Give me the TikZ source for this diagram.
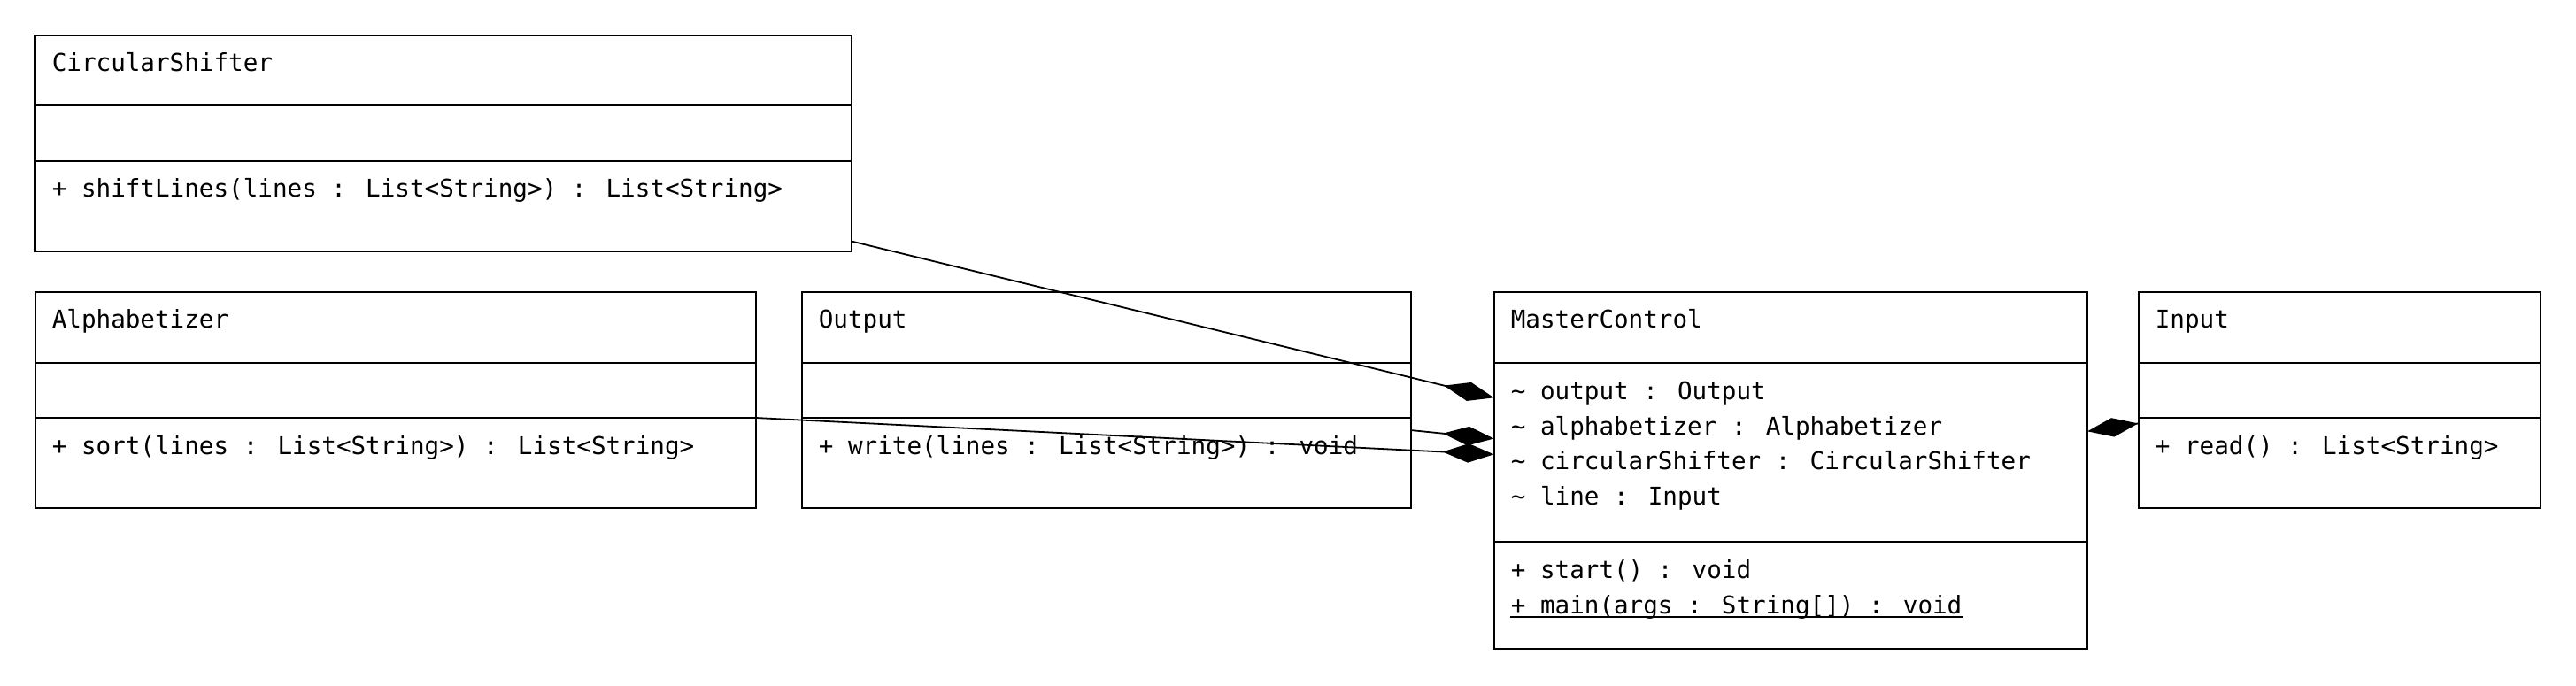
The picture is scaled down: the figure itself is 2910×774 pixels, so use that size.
\documentclass[tikz,border=0pt]{standalone}
\usepackage{fontspec}
\newfontfamily\umlfont{DejaVu Sans Mono}
\usetikzlibrary{arrows.meta}
\begin{document}
\begin{tikzpicture}[x=0.25pt,y=-0.25pt]
\tikzset{
  classbox/.style={draw, line width=0.55pt, inner sep=0pt, outer sep=0pt, anchor=north west},
  divider/.style={line width=0.55pt},
  txt/.style={inner sep=0pt, anchor=base west, font=\umlfont\fontsize{6.9}{8}\selectfont},
  comp/.style={line width=0.45pt, -{Diamond[length=14.5pt,width=5.4pt]}},
}
\useasboundingbox[fill=white] (0,0) rectangle (2910,774);

% CircularShifter
\node[classbox, minimum width=230.6pt, minimum height=60.9pt] (cs) at (39.5,40) {};
\draw[divider] (cs.west |- 0,119.3) -- (cs.east |- 0,119.3);
\draw[divider] (cs.west |- 0,181.7) -- (cs.east |- 0,181.7);
\node[txt] (csT) at (58,80.5) {CircularShifter};
\node[txt] (csM) at (58,222.7) {+ shiftLines(lines : List<String>) : List<String>};

% Alphabetizer
\node[classbox, minimum width=203.6pt, minimum height=60.9pt] (al) at (39.6,330) {};
\draw[divider] (al.west |- 0,409.7) -- (al.east |- 0,409.7);
\draw[divider] (al.west |- 0,472) -- (al.east |- 0,472);
\node[txt] (alT) at (58,370.5) {Alphabetizer};
\node[txt] (alM) at (58,513.3) {+ sort(lines : List<String>) : List<String>};

% Output
\node[classbox, minimum width=172pt, minimum height=60.9pt] (out) at (905.6,330) {};
\draw[divider] (out.west |- 0,409.7) -- (out.east |- 0,409.7);
\draw[divider] (out.west |- 0,472) -- (out.east |- 0,472);
\node[txt] (outT) at (924,370.5) {Output};
\node[txt] (outM) at (924,513.3) {+ write(lines : List<String>) : void};

% MasterControl
\node[classbox, minimum width=167.6pt, minimum height=100.8pt] (mc) at (1687.6,330) {};
\draw[divider] (mc.west |- 0,409.7) -- (mc.east |- 0,409.7);
\draw[divider] (mc.west |- 0,611.7) -- (mc.east |- 0,611.7);
\node[txt] (mcT) at (1706,370.5) {MasterControl};
\node[txt] (mcA1) at (1706,451.5) {\textasciitilde{} output : Output};
\node[txt] (mcA2) at (1706,491.2) {\textasciitilde{} alphabetizer : Alphabetizer};
\node[txt] (mcA3) at (1706,530.9) {\textasciitilde{} circularShifter : CircularShifter};
\node[txt] (mcA4) at (1706,570.6) {\textasciitilde{} line : Input};
\node[txt] (mcM1) at (1706,653.3) {+ start() : void};
\node[txt] (mcM2) at (1706,693) {+ main(args : String[]) : void};
\draw[line width=0.5pt] ([yshift=-1pt]mcM2.base west) -- ([yshift=-1pt]mcM2.base east);

% Input
\node[classbox, minimum width=113.5pt, minimum height=60.9pt] (in) at (2416,330) {};
\draw[divider] (in.west |- 0,409.7) -- (in.east |- 0,409.7);
\draw[divider] (in.west |- 0,472) -- (in.east |- 0,472);
\node[txt] (inT) at (2434,370.5) {Input};
\node[txt] (inM) at (2434,513.3) {+ read() : List<String>};

% connector end points
\coordinate (csOut) at (cs.east |- 0,272.5);
\coordinate (mcIn1) at (mc.west |- 0,449.3);
\coordinate (outOut) at (out.east |- 0,486);
\coordinate (mcIn2) at (mc.west |- 0,495.5);
\coordinate (alOut) at (al.east |- 0,472);
\coordinate (mcIn3) at (mc.west |- 0,513.3);
\coordinate (inOut) at (in.west |- 0,478.3);
\coordinate (mcIn4) at (mc.east |- 0,487.3);

\draw[comp] (csOut) -- (mcIn1);
\draw[comp] (outOut) -- (mcIn2);
\draw[comp] (alOut) -- (mcIn3);
\draw[comp] (inOut) -- (mcIn4);
\end{tikzpicture}
\end{document}
